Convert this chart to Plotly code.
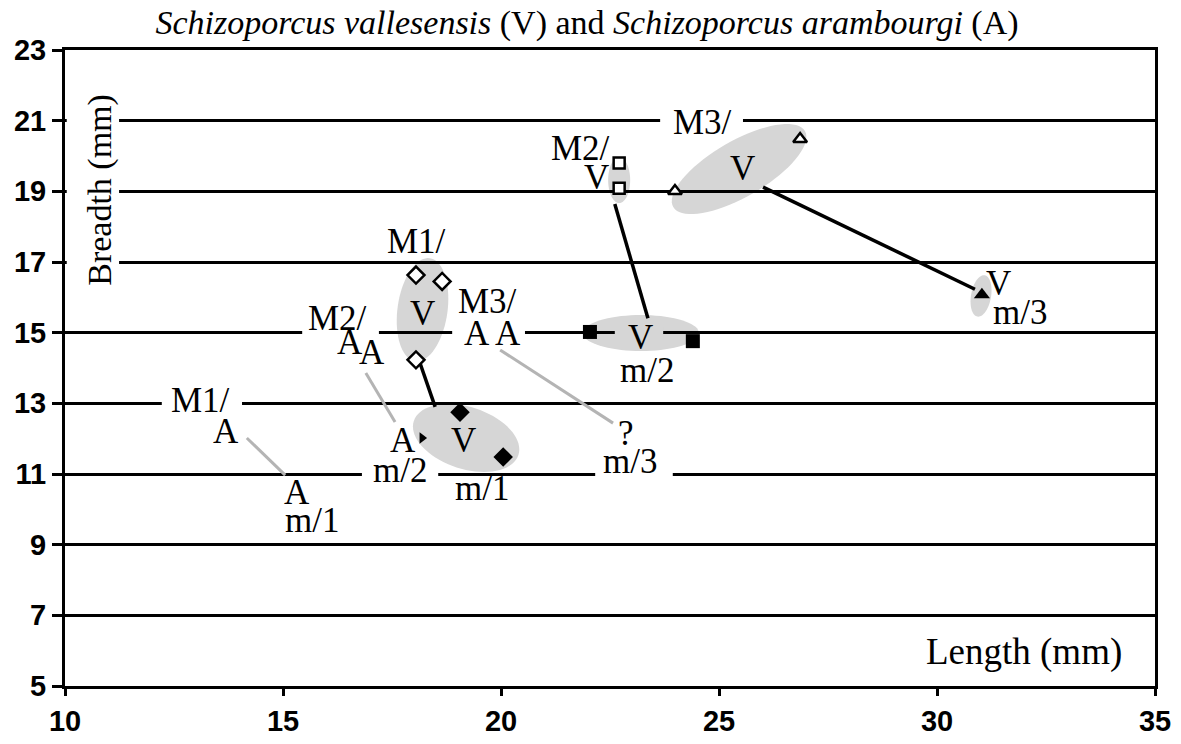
import numpy as np
import plotly.graph_objects as go

# ---------------- layout constants ----------------
# the page body has an 8px margin, so the figure is sized to fit inside it
W, H = 1165, 728
ML, MR, MT, MB = 57, 18, 42, 50
X_RANGE = [10, 35]
Y_RANGE = [5, 23]
x_ticks = [10, 15, 20, 25, 30, 35]
y_ticks = [5, 7, 9, 11, 13, 15, 17, 19, 21, 23]

# ---------------- data: Schizoporcus vallesensis (V) ----------------
v_M1_len = [18.05, 18.65, 18.05]
v_M1_br = [16.63, 16.45, 14.23]
v_m1_len = [19.06, 20.05]
v_m1_br = [12.75, 11.48]
v_M2_len = [22.71, 22.71]
v_M2_br = [19.80, 19.09]
v_m2_len = [22.04, 24.40]
v_m2_br = [15.02, 14.76]
v_M3_len = [23.99, 26.86]
v_M3_br = [19.01, 20.48]
v_m3_len = [31.03]
v_m3_br = [16.07]
# Schizoporcus arambourgi (A) plotted point
a_m2_len = [18.19]
a_m2_br = [12.02]

# connectors upper -> lower tooth (V: black, A: grey)
v_link_x0 = [18.14, 22.61, 26.01]
v_link_y0 = [14.15, 18.64, 19.12]
v_link_x1 = [18.49, 23.37, 30.87]
v_link_y1 = [12.90, 15.41, 16.23]
a_link_x0 = [14.17, 16.90, 19.98]
a_link_y0 = [12.02, 13.86, 14.51]
a_link_x1 = [15.05, 17.57, 22.57]
a_link_y1 = [10.97, 12.47, 12.44]

# grey ranges (centre in data units, semi-axes in px, tilt in degrees)
ell_cx = [18.20, 19.20, 22.71, 23.21, 25.46, 31.01]
ell_cy = [15.65, 12.02, 19.32, 14.99, 19.63, 16.04]
ell_a = [25, 55, 11, 58, 76, 10]
ell_b = [52, 31, 23, 18, 28, 21]
ell_ang = [-8, -18, 0, 0, 30, -10]

# text labels
lab_text = ["M1/", "V", "V", "m/1", "M2/", "V", "V", "m/2", "M3/", "V", "V", "m/3",
            "M1/", "A", "A", "m/1", "M2/", "A", "A", "A", "m/2",
            "M3/", "A", "A", "?", "m/3"]
lab_x = [18.07, 18.20, 19.13, 19.56, 21.83, 22.20, 23.19, 23.35, 24.63, 25.53, 31.42, 31.90,
         13.10, 13.69, 15.32, 15.67, 16.26, 16.54, 17.04, 17.75, 17.68,
         19.68, 19.45, 20.16, 22.87, 22.96]
lab_y = [17.57, 15.55, 11.96, 10.58, 20.20, 19.38, 14.87, 13.94, 20.96, 19.66, 16.40, 15.58,
         13.09, 12.19, 10.48, 9.68, 15.41, 14.71, 14.45, 11.96, 11.10,
         15.87, 14.99, 14.99, 12.16, 11.34]

# gaps in the horizontal rules (where labels interrupt them)
gap_y = [21, 19, 17, 21, 15, 15, 15, 13, 11, 11]
gap_x0 = [10.0, 10.0, 10.0, 23.65, 15.44, 18.88, 22.61, 12.22, 16.81, 22.16]
gap_x1 = [11.24, 11.24, 11.24, 25.55, 17.20, 20.55, 23.72, 14.06, 18.56, 23.94]
gap_fill = ["white", "white", "white", "white", "white", "white", "#d6d6d6", "white", "white", "white"]

SERIF = "Liberation Serif, Times New Roman, serif"
FS = 35

plot_w = W - ML - MR
plot_h = H - MT - MB
sx = plot_w / (X_RANGE[1] - X_RANGE[0])
sy = plot_h / (Y_RANGE[1] - Y_RANGE[0])

fig = go.Figure()

shapes = []
# ellipses (beneath the rules)
for cx, cy, a, b, ang in zip(ell_cx, ell_cy, ell_a, ell_b, ell_ang):
    t = np.linspace(0, 2 * np.pi, 73)
    th = np.deg2rad(ang)
    dx = a * np.cos(t) * np.cos(th) - b * np.sin(t) * np.sin(th)
    dy = a * np.cos(t) * np.sin(th) + b * np.sin(t) * np.cos(th)
    xs = cx + dx / sx
    ys = cy + dy / sy
    path = "M " + " L ".join(f"{x:.4f},{y:.4f}" for x, y in zip(xs, ys)) + " Z"
    shapes.append(dict(type="path", path=path, xref="x", yref="y",
                       fillcolor="#d6d6d6", line=dict(width=0), layer="below"))

# rule gaps
half = 5 / sy
for gy, x0, x1, fc in zip(gap_y, gap_x0, gap_x1, gap_fill):
    shapes.append(dict(type="rect", xref="x", yref="y", x0=x0 + 0.04 if x0 == X_RANGE[0] else x0,
                       x1=x1, y0=gy - half, y1=gy + half,
                       fillcolor=fc, line=dict(width=0), layer="above"))

# connector lines
for x0, y0, x1, y1 in zip(a_link_x0, a_link_y0, a_link_x1, a_link_y1):
    fig.add_trace(go.Scatter(x=[x0, x1], y=[y0, y1], mode="lines",
                             line=dict(color="#b4b4b4", width=3), showlegend=False, hoverinfo="skip"))
for x0, y0, x1, y1 in zip(v_link_x0, v_link_y0, v_link_x1, v_link_y1):
    fig.add_trace(go.Scatter(x=[x0, x1], y=[y0, y1], mode="lines",
                             line=dict(color="black", width=3.5), showlegend=False, hoverinfo="skip"))

def pts(x, y, symbol, filled, size):
    fig.add_trace(go.Scatter(
        x=x, y=y, mode="markers", showlegend=False,
        marker=dict(symbol=symbol, size=size,
                    color="black" if filled else "white",
                    line=dict(color="black", width=0 if filled else 2.5))))

pts(v_M1_len, v_M1_br, "diamond", False, 13)
pts(v_m1_len, v_m1_br, "diamond", True, 15)
pts(v_M2_len, v_M2_br, "square", False, 11)
pts(v_m2_len, v_m2_br, "square", True, 14)
pts(v_M3_len, v_M3_br, "triangle-up", False, 12)
pts(v_m3_len, v_m3_br, "triangle-up", True, 14)
pts(a_m2_len, a_m2_br, "triangle-right", True, 10)

annotations = []
for t, x, y in zip(lab_text, lab_x, lab_y):
    annotations.append(dict(x=x, y=y, xref="x", yref="y", text=t, showarrow=False,
                            font=dict(family=SERIF, size=FS, color="black")))

# axis titles placed inside the frame as in the original
annotations.append(dict(x=10.80, y=19.04, xref="x", yref="y", text="Breadth (mm)",
                        textangle=-90, showarrow=False,
                        font=dict(family=SERIF, size=34, color="black")))
annotations.append(dict(x=32.0, y=5.96, xref="x", yref="y", text="Length (mm)",
                        showarrow=False, font=dict(family=SERIF, size=37, color="black")))

TICKFONT = dict(family="Liberation Sans, Arial, sans-serif",
                size=29, color="black", weight="bold")

fig.update_layout(
    width=W, height=H,
    margin=dict(l=ML, r=MR, t=MT, b=MB, autoexpand=False),
    paper_bgcolor="white", plot_bgcolor="white",
    title=dict(text="<i>Schizoporcus vallesensis</i> (V) and <i>Schizoporcus arambourgi</i> (A)",
               x=0.497, xanchor="center", y=1 - 14 / H, yanchor="middle", yref="container",
               font=dict(family=SERIF, size=34, color="black")),
    shapes=shapes,
    annotations=annotations,
    xaxis=dict(range=X_RANGE, tickvals=x_ticks, showgrid=False, zeroline=False, automargin=False,
               showline=True, linecolor="black", linewidth=3, mirror=True,
               ticks="outside", ticklen=7, tickwidth=3, tickcolor="black",
               tickfont=TICKFONT),
    yaxis=dict(range=Y_RANGE, tickvals=y_ticks, showgrid=True, gridcolor="black", gridwidth=3,
               zeroline=False, showline=True, linecolor="black", linewidth=3, mirror=True,
               automargin=False,
               ticks="outside", ticklen=10, tickwidth=3, tickcolor="black",
               tickfont=TICKFONT),
)

fig.write_html("out.html")
